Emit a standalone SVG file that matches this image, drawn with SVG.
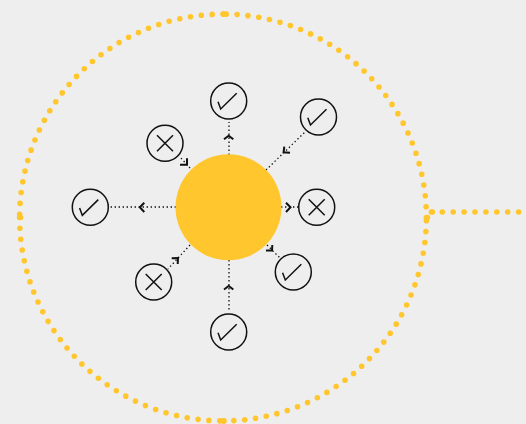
<svg xmlns="http://www.w3.org/2000/svg" width="526" height="424" viewBox="0 0 526 424">
<style>
.dots{fill:none;stroke:#FFC62E;stroke-width:5.6;stroke-linecap:round}
.link{fill:none;stroke:#111;stroke-width:1.3;stroke-dasharray:1.4 2.6}
.head{fill:none;stroke:#111;stroke-width:2}
.ring{fill:#EEEEEE;stroke:#111;stroke-width:1.5}
.glyph{fill:none;stroke:#111;stroke-width:1.5}
</style>
<defs>
<g id="check"><circle class="ring" r="18"/><path class="glyph" d="M-10.7 0.7L-8 8L8 -7.7"/></g>
<g id="cross"><circle class="ring" r="18"/><path class="glyph" d="M-8 -8L8 8M8 -8L-8 8"/></g>
</defs>
<rect width="526" height="424" fill="#EEEEEE"/>
<g id="connectors">
<path class="dots" stroke-dasharray="0 10.9" d="M426.4 217.5A203.4 203.4 0 0 0 223 14.1"/>
<path class="dots" stroke-dasharray="0 10.9" d="M223 14.1A203.4 203.4 0 0 0 19.6 217.5"/>
<path class="dots" stroke-dasharray="0 10.9" d="M19.6 217.5A203.4 203.4 0 0 0 223 420.9"/>
<path class="dots" stroke-dasharray="0 10.9" d="M223 420.9A203.4 203.4 0 0 0 426.4 217.5"/>
<path class="dots" stroke-dasharray="0 10.9" d="M431.4 212H520"/>
<path class="dots" d="M427.4 217.5h0M224 14.1h0M20.6 217.5h0M224 420.9h0M432.4 212h0"/>
<path class="link" d="M229 155V122M229 260V312M176 207H110M281 207H299M266 170L305 132M190 168L180 157M190 245L168 269M267 245L280 258"/>
<path class="head" d="M224 139.3L228.7 135.7L233.3 139.3"/>
<path class="head" d="M224 289.5L228.7 286L233.3 289.5"/>
<path class="head" d="M144.3 202.7L139.8 207.3L144.3 212"/>
<path class="head" d="M286 202.7L290.5 207.3L286 212"/>
<path class="head" d="M284.3 146.7L283.6 152.3L290 152.7"/>
<path class="head" d="M187 158.3L187 164.7L180 164.7"/>
<path class="head" d="M171.7 258.3L178 258L177.7 264"/>
<path class="head" d="M266 250.5L272 250.5L272.3 245"/>
</g>
<g id="hub"><circle cx="228.5" cy="207.3" r="53" fill="#FFC62E"/></g>
<g id="node-top"><use href="#check" x="228.7" y="101"/></g>
<g id="node-top-right"><use href="#check" x="318.5" y="117"/></g>
<g id="node-right"><use href="#cross" x="316.7" y="207.3"/></g>
<g id="node-bottom-right"><use href="#check" x="293.3" y="272"/></g>
<g id="node-bottom"><use href="#check" x="228.7" y="332"/></g>
<g id="node-bottom-left"><use href="#cross" x="153.7" y="282"/></g>
<g id="node-left"><use href="#check" x="90.3" y="207.3"/></g>
<g id="node-top-left"><use href="#cross" x="165" y="143.3"/></g>
</svg>
